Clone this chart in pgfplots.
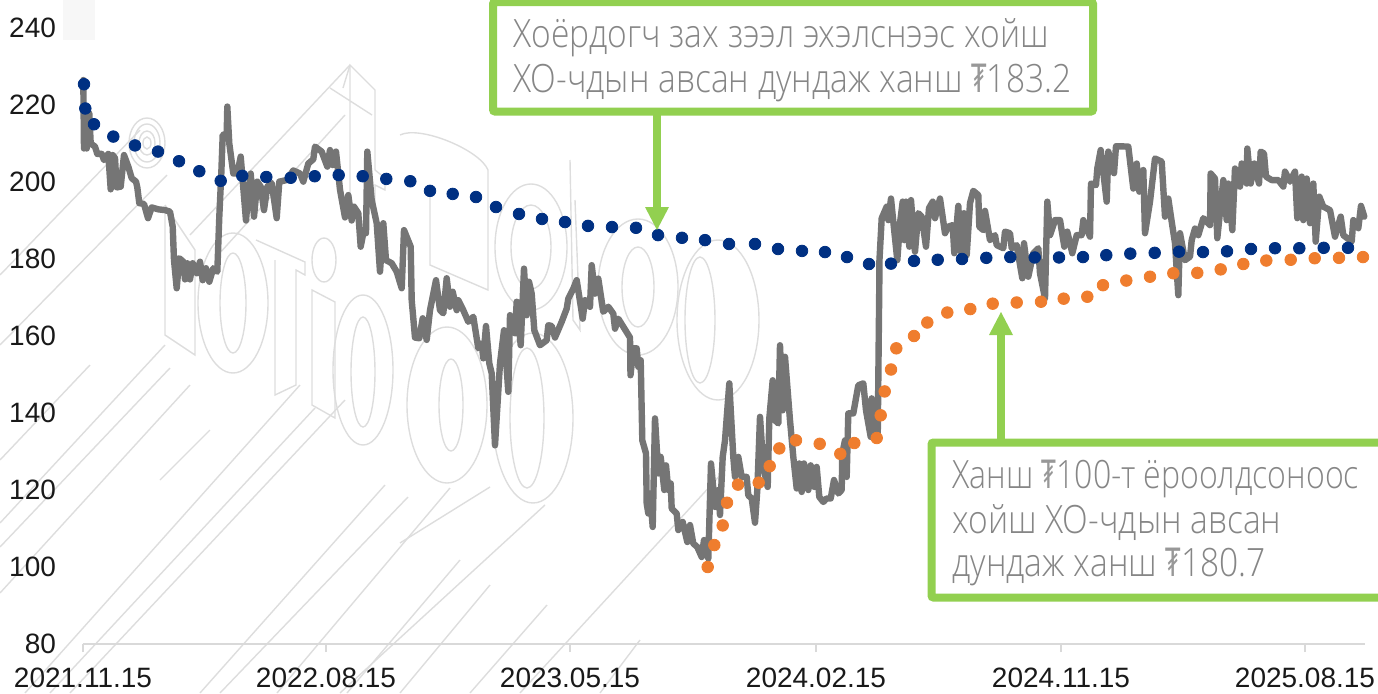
\documentclass[border=0pt]{standalone}
\usepackage{fontspec}
\setmainfont{Liberation Sans}
\newfontfamily\annot[FakeStretch=0.86]{Open Sans Light}
\newfontfamily\tug[FakeStretch=0.62]{DejaVu Sans}
\usepackage{graphicx}
\usepackage{pgfplots}
\pgfplotsset{compat=1.18}
\definecolor{wm}{HTML}{DDDDDD}
\definecolor{grayline}{HTML}{757575}
\definecolor{navyd}{HTML}{003082}
\definecolor{orangd}{HTML}{EF7D2E}
\definecolor{greenb}{HTML}{92D050}
\definecolor{annotc}{HTML}{868686}
\definecolor{axc}{HTML}{D9D9D9}
\newcommand{\callfont}{\annot\fontsize{19.5}{22}\selectfont}
\newcommand{\tg}{{\tug\color{annotc!85}₮}}
\begin{document}
\begin{tikzpicture}
\useasboundingbox (0,0) rectangle (689pt,346.5pt);
\clip (0,0) rectangle (689pt,346.5pt);
% watermark, drawn in image pixels
\begin{scope}[shift={(0pt,346.5pt)},x=0.5pt,y=-0.5pt,draw=wm,line width=0.7pt]
\fill[black!3] (63,0) rectangle (95,40);
\foreach \a/\b/\c/\d in {0/275/140/130,0/345/167/175,190/235/350/65,218/255/345/115,0/523/165/345,0/547/170/368,0/593/190/385,25/693/300/385,50/693/315/408,200/693/385/485,220/693/408/497,277/693/450/488,347/693/460/560,400/693/490/585,470/693/547/605,400/543/490/487,340/693/545/505,520/693/725/470,600/693/640/640,160/480/210/430,0/460/90/365,70/693/345/400}{
  \draw (\a,\b) -- (\c,\d);
}
% swirl
\draw (147,143) ellipse [x radius=18,y radius=25];
\draw (147,143) ellipse [x radius=13,y radius=19];
\draw (147,143) ellipse [x radius=8,y radius=12];
\draw (147,143) ellipse [x radius=4,y radius=6];
% upper row of letters
\draw (343,88)--(350,65)--(375,90)--(375,170)--(385,178)--(385,190)--(375,185)--(375,215);
\draw (330,88)--(372,115) (350,65)--(350,215);
\draw (531,247) ellipse [x radius=36,y radius=63];
\draw (531,247) ellipse [x radius=20,y radius=42];
\draw (638,287) ellipse [x radius=40,y radius=68];
\draw (638,287) ellipse [x radius=16,y radius=40];
\draw (718,320) ellipse [x radius=41,y radius=80];
\draw (700,320) ellipse [x radius=15,y radius=63];
\draw (400,135) .. controls (420,125) and (480,150) .. (488,170)--(488,290)--(430,265)--(430,190);
\draw (570,160)--(573,320)--(580,330)--(575,200);
% lower row of letters
\draw (233,303) ellipse [x radius=35,y radius=70];
\draw (233,303) ellipse [x radius=13,y radius=50];
\draw (165,205)--(165,335)--(195,355)--(195,250)--(165,205);
\draw (256,240)--(305,262)--(305,275)--(296,270)--(296,385)--(275,395)--(275,260);
\draw (324,260) ellipse [x radius=12,y radius=22];
\draw (312,290)--(335,302)--(335,418)--(312,405)--cycle;
\draw (363,370) ellipse [x radius=30,y radius=75];
\draw (363,372) ellipse [x radius=12,y radius=55];
\draw (447,405) ellipse [x radius=40,y radius=78];
\draw (451,405) ellipse [x radius=12,y radius=46];
\draw (533,418) ellipse [x radius=40,y radius=85];
\draw (527,418) ellipse [x radius=17,y radius=70];
\end{scope}
\begin{axis}[
  at={(41.5pt,24.5pt)},anchor=south west,
  scale only axis,width=641pt,height=308pt,
  xmin=0,xmax=1282,ymin=80,ymax=240,
  clip=false,
  axis lines=left,
  axis line style={-},
  y axis line style={draw=none},
  x axis line style={draw=axc,line width=0.6pt},
  xtick={0,243,487,733,978,1222},
  xticklabels={2021.11.15,2022.08.15,2023.05.15,2024.02.15,2024.11.15,2025.08.15},
  ytick={80,100,...,240},
  tick align=outside,
  major tick length=4pt,
  xtick style={draw=axc,line width=0.6pt},
  ytick style={draw=none},
  tick label style={font=\fontsize{14}{16}\selectfont,text=black!90},
  /pgf/number format/assume math mode=true,
  xticklabel style={yshift=-4.5pt},
  yticklabel style={xshift=-6pt},
]
\addplot[color=grayline,line width=3.2pt,line join=round,line cap=round] coordinates {
(0.3,226.5)(1,208.7)(2.3,219.6)(3.7,208.7)(6.3,217.8)(7.7,210.0)(12,209.2)(14.3,207.3)(18.7,207.3)(21,205.7)(25.3,207.3)(27.7,198.1)(29.7,207.0)(32,206.2)(33.7,198.6)(37.7,198.8)(41,207.0)(45.3,204.0)(48.7,201.0)(53,200.1)(54.3,198.6)(56.3,194.5)(61,194.3)(65,190.6)(68.7,193.4)(75.3,192.9)(82,192.7)(87,192.3)(89.7,188.4)(91,179.7)(93.7,172.4)(96.3,180.2)(100.3,179.3)(102,174.7)(104.3,178.9)(107,174.7)(109.7,178.9)(113.7,176.3)(117,179.3)(119.7,174.5)(123,177.6)(126.3,174.1)(130.3,177.6)(134.3,176.7)(136.3,191.0)(138.3,202.2)(139.7,212.2)(143.7,212.6)(144.3,219.6)(146.3,210.0)(150.3,202.2)(154.3,202.2)(157.7,206.6)(163,190.0)(165.3,197.1)(167.7,202.2)(171,191.0)(174.3,200.1)(177.7,198.8)(181,192.7)(184.3,198.8)(188.7,199.7)(193.7,190.6)(196.3,200.1)(203.7,200.5)(210.3,203.0)(217,202.2)(220.3,200.1)(225.3,204.8)(230.3,205.9)(232,209.2)(238.7,207.9)(244.3,204.0)(247,208.3)(249.7,204.4)(253,207.9)(257,198.0)(262,190.8)(265.3,196.6)(268.7,190.0)(271,193.6)(275.3,191.9)(277.7,183.2)(280.3,186.7)(283,186.7)(284.3,207.9)(288.7,195.3)(293.7,189.3)(297,176.7)(300.3,189.3)(303,179.7)(308.7,178.9)(313.7,176.7)(318.7,172.4)(321,187.5)(327.7,183.2)(328.7,169.3)(332,159.6)(336.3,159.4)(339.7,164.6)(343.7,159.0)(347,166.7)(353,174.5)(357,166.7)(360.3,165.9)(363.7,175.0)(367,167.6)
(369.7,171.5)(373.7,166.7)(375.3,169.3)(380.3,166.7)(385.3,163.7)(390.3,165.0)(395.3,156.8)(398.7,158.0)(400.3,154.2)(403,162.6)(406.3,152.9)(408.7,150.3)(412,131.6)(417,152.9)(421,161.5)(425.3,145.5)(427,165.4)(432,160.7)(433.7,168.9)(437.7,157.6)(441,177.5)(443.7,165.4)(446,174.1)(448.7,171.0)(451.3,161.5)(457,157.6)(463.7,158.9)(465.3,162.8)(468.7,162.6)(472,159.6)(478.7,163.7)(483.7,167.1)(485.3,169.7)(490.3,172.3)(493.7,174.5)(499.7,164.5)(502,169.3)(507,167.6)(508.7,178.4)(512,171.0)(515.3,174.9)(520.3,166.3)(525.3,167.6)(530.3,165.8)(532,161.9)(535.3,164.5)(547,159.6)(547.5,149.8)(550.3,156.8)(553.7,156.8)(555.3,152.0)(557.7,153.7)(559.3,132.9)(563,129.5)(563.7,116.5)(565.3,113.9)(567,119.1)(569.7,110.4)(572,138.6)(575.3,124.3)(577.7,128.6)(581.3,120.0)(583,126.4)(585.3,120.0)(587.7,121.7)(588.7,115.2)(593.7,113.9)(595.3,109.6)(599.7,111.7)(604.3,106.5)(607,110.9)(610.3,106.1)(614.3,105.2)(618.7,102.6)(621,107.0)(625.3,102.2)(628,126.9)(632,115.6)(635.3,120.0)(637,113.5)(639.7,128.6)(642,132.9)(646.3,147.7)(650.3,128.6)(652,123.4)(655.3,128.6)(658.7,123.4)(663.7,123.4)(665.3,118.6)(668.7,117.8)(672,111.5)(674.3,120.0)(677,139.0)(680.3,126.0)(684.7,120.8)(686.3,138.6)(689.7,148.5)(692,138.1)(695.3,137.3)(697,157.6)(699.7,140.7)(702,154.6)(707,138.1)(710.3,128.6)(713.7,120.4)(716.3,126.9)(718.7,119.5)(721,126.9)(725.3,120.0)(727.7,126.4)(731.3,120.8)(733.7,126.0)(736.3,118.2)(740.3,116.9)(743.7,117.8)(747.7,117.8)(751,122.6)(755.3,119.1)(758.7,120.0)(759.3,129.5)(762,132.9)(763.7,123.4)(765.3,139.9)(770.3,139.9)(775.3,147.2)(780.3,147.7)(783,140.7)(787.7,133.8)(788.7,143.8)(792,133.8)(794.7,133.4)(796.3,173.6)
(796.3,178.9)(798.7,190.6)(803.7,193.6)(805.3,190.1)(808,195.7)(810.3,189.7)(814.3,179.7)(817,189.3)(819.7,194.9)(821.3,184.9)(823,194.9)(826.3,183.2)(828,195.3)(832,181.9)(835.3,191.9)(838.7,191.0)(843,183.2)(846,193.2)(849.7,194.9)(852,190.6)(857,195.7)(862,186.7)(865.3,188.4)(869.7,188.8)(871.3,181.5)(875.3,193.8)(877.7,181.9)(881,191.9)(883.7,181.0)(887,194.5)(890.3,197.7)(895.3,196.6)(896.3,188.4)(900.3,187.5)(902,192.5)(907,184.9)(912,186.2)(913.7,183.6)(920.3,182.8)(922,187.1)(927,186.7)(928.7,182.8)(933.7,183.6)(939.3,175.0)(941,184.1)(945.3,175.4)(950.3,181.5)(955.3,182.8)(957,176.3)(962,169.8)(964.3,194.9)(967,186.2)(972,190.1)(977,190.1)(981.3,183.2)(984.3,187.1)(989.3,181.5)(993.7,186.2)(998.7,186.2)(1000.3,190.1)(1007,185.8)(1008,199.6)(1013,199.2)(1014.3,203.5)(1017.7,208.3)(1023.7,194.9)(1025.3,207.9)(1031,202.3)(1033,209.3)(1045.3,209.2)(1050.3,198.3)(1053.7,204.8)(1056.3,197.5)(1060.3,203.1)(1062,186.7)(1067,194.9)(1072,206.1)(1078.7,205.3)(1082,191.0)(1085.3,195.7)(1088.7,189.7)(1092,184.1)(1095.3,170.6)(1097,186.7)(1102,179.7)(1107,180.6)(1108.7,184.9)(1112,187.9)(1115.3,186.2)(1120.3,190.6)(1127,188.8)(1127.7,202.2)(1132,200.9)(1134.3,185.4)(1140.3,200.5)(1143.7,190.1)(1145.3,199.6)(1149.3,187.5)(1152,203.5)(1157,198.8)(1158.7,204.8)(1163.7,199.6)(1164.3,208.7)(1167.7,199.6)(1171.3,204.8)(1176,199.6)(1177.7,207.9)(1181,207.4)(1183,201.4)(1188.7,200.5)(1195.3,200.5)(1200.3,198.8)(1202,202.7)(1207,200.1)(1212,202.7)(1214.3,190.6)(1218.7,201.4)(1220.3,190.1)(1223.7,200.9)(1227,189.3)(1230.3,199.6)(1232.7,184.5)(1236.3,196.2)(1240.3,193.6)(1247,192.7)(1252,185.8)(1257.7,191.0)(1260.3,186.2)(1268.7,184.5)(1270.3,190.1)(1275.3,188.0)(1278,193.8)(1281.3,191.0)
};
\addplot[only marks,mark=*,mark size=2.9pt,color=navyd,mark options={draw=none,fill=navyd}] coordinates {
(1,225.4)(2.3,219.1)(11,215.0)(30.3,211.8)(52,209.5)(75,207.9)(96,205.4)(116.3,202.8)(137.7,200.3)(159.3,201.6)(183.3,201.3)(207.7,201.1)(231.7,201.5)(255.7,201.8)(279.7,201.5)(303.3,200.8)(327.3,200.2)(347,197.7)(369.7,196.9)(393,196.1)(413,193.5)(436,191.7)(459,190.4)(482,189.6)(505,188.6)(529,188.3)(553,188.1)(575,186.2)(599,185.5)(622,184.9)(646,183.9)(672,183.9)(695,182.6)(719,182.1)(742,181.8)(764,180.5)(786,178.7)(808,178.8)(831,179.5)(854.7,179.8)(879,180.0)(903.3,180.3)(927.3,180.5)(951.7,180.4)(976,180.4)(1000,180.5)(1023.3,181.0)(1047.3,181.4)(1071.7,181.6)(1096,181.9)(1120,181.8)(1144,182.0)(1168,182.6)(1192,182.8)(1216.3,182.8)(1240.7,182.9)(1265,182.9)
};
\addplot[only marks,mark=*,mark size=2.9pt,color=orangd,mark options={draw=none,fill=orangd}] coordinates {
(624.7,100.0)(631.3,105.7)(639.7,110.8)(644,116.7)(655,121.4)(675.7,121.9)(686.7,126.2)(696.3,130.8)(713,132.9)(736.7,132.0)(757.3,129.4)(771.3,132.2)(793.7,133.5)(797.7,139.4)(801.7,145.6)(808,151.3)(813.3,156.8)(831,160.0)(844.3,163.5)(864.3,166.1)(887.3,167.0)(909.7,168.4)(933.7,168.7)(958,168.9)(980.7,169.7)(1004.3,170.2)(1020,173.2)(1043.3,174.4)(1067,175.4)(1090.3,176.3)(1114.3,176.4)(1137.7,177.3)(1160.3,178.7)(1183.3,179.6)(1207.7,179.8)(1231.7,180.2)(1256,180.3)(1280,180.5)
};
\end{axis}
% call-outs, in image pixels
\begin{scope}[shift={(0pt,346.5pt)},x=0.5pt,y=-0.5pt]
\draw[draw=greenb,line width=3.75pt] (657,111)--(657,212);
\fill[greenb] (645,207)--(669,207)--(657,230)--cycle;
\draw[draw=greenb,fill=white,line width=4pt,rounded corners=1pt] (493,2)--(1093,2)--(1093,111.5)--(493,111.5)--cycle;
\node[anchor=base west,inner sep=0,text=annotc,font=\callfont] at (513,47) {Хоёрдогч зах зээл эхэлснээс хойш};
\node[anchor=base west,inner sep=0,text=annotc,font=\callfont] at (513,92) {ХО-чдын авсан дундаж ханш \tg183.2};
\draw[draw=greenb,line width=3.75pt] (1001,442)--(1001,330);
\fill[greenb] (989,335)--(1013,335)--(1001,312)--cycle;
\draw[draw=greenb,fill=white,line width=4pt,rounded corners=1pt] (931.5,442.5)--(1390,442.5)--(1390,597.5)--(931.5,597.5)--cycle;
\node[anchor=base west,inner sep=0,text=annotc,font=\callfont] at (952,488) {\scalebox{0.955}[1]{Ханш \tg100-т ёроолдсоноос}};
\node[anchor=base west,inner sep=0,text=annotc,font=\callfont] at (952,533) {хойш ХО-чдын авсан};
\node[anchor=base west,inner sep=0,text=annotc,font=\callfont] at (952,576) {дундаж ханш \tg180.7};
\end{scope}
\end{tikzpicture}
\end{document}
